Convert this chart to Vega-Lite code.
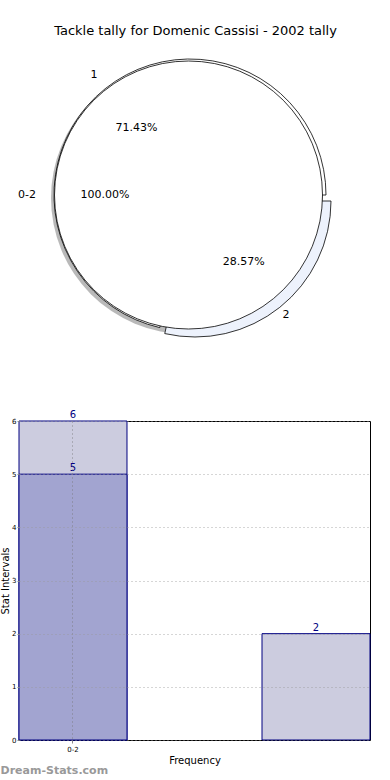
{
  "$schema": "https://vega.github.io/schema/vega-lite/v6.json",
  "padding": {"left": 0, "top": 25, "right": 0, "bottom": 0},
  "background": "white",
  "title": {"text": "Tackle tally for Domenic Cassisi - 2002 tally", "fontSize": 13, "font": "DejaVu Sans", "fontWeight": "normal", "color": "#000000", "anchor": "middle", "offset": 7, "dx": 10},
  "config": {"font": "DejaVu Sans", "view": {"stroke": "#000000", "strokeWidth": 1}},
  "bounds": "flush",
  "spacing": 76,
  "vconcat": [
    {
      "width": 342,
      "height": 300,
      "view": {"stroke": null},
      "layer": [
        {
          "data": {"values": [{"label": "0-2", "value": 7}]},
          "mark": {"type": "arc", "outerRadius": 136, "innerRadius": 0, "fill": "#808080", "opacity": 0.55, "xOffset": -3, "yOffset": 3},
          "encoding": {"theta": {"field": "value", "type": "quantitative", "stack": true, "scale": {"range": [1.5707963267948966, 7.853981633974483]}}}
        },
        {
          "data": {"values": [{"label": "1", "value": 5}]},
          "mark": {"type": "arc", "outerRadius": 136, "innerRadius": 90, "fill": "#ffffff", "stroke": "#000000", "strokeWidth": 0.8},
          "encoding": {
            "theta": {"datum": 7, "type": "quantitative"},
            "theta2": {"datum": 2}
          }
        },
        {
          "data": {"values": [{"label": "2", "value": 2}]},
          "mark": {"type": "arc", "outerRadius": 136, "innerRadius": 90, "fill": "#edf2fc", "stroke": "#000000", "strokeWidth": 0.8, "xOffset": 5, "yOffset": 6},
          "encoding": {
            "theta": {"datum": 0, "type": "quantitative"},
            "theta2": {"datum": 2}
          }
        },
        {
          "data": {"values": [{"label": "0-2", "value": 7}]},
          "mark": {"type": "arc", "outerRadius": 134, "innerRadius": 0, "fill": "#ffffff", "stroke": "#000000", "strokeWidth": 0.8, "xOffset": -1.5},
          "encoding": {"theta": {"field": "value", "type": "quantitative", "stack": true}}
        },
        {
          "data": {"values": [{"label": "2", "value": 2, "pct": "28.57%"}, {"label": "1", "value": 5, "pct": "71.43%"}]},
          "mark": {"type": "text", "radius": 154, "fontSize": 11, "font": "DejaVu Sans", "color": "#000000"},
          "encoding": {
            "theta": {"field": "value", "type": "quantitative", "stack": true},
            "order": {"field": "label", "sort": "descending"},
            "text": {"field": "label"}
          }
        },
        {
          "data": {"values": [{"label": "2", "value": 2, "pct": "28.57%"}, {"label": "1", "value": 5, "pct": "71.43%"}]},
          "mark": {"type": "text", "radius": 86, "fontSize": 11, "font": "DejaVu Sans", "color": "#000000"},
          "encoding": {
            "theta": {"field": "value", "type": "quantitative", "stack": true},
            "order": {"field": "label", "sort": "descending"},
            "text": {"field": "pct"}
          }
        },
        {
          "data": {"values": [{"label": "0-2", "value": 7, "pct": "100.00%"}]},
          "mark": {"type": "text", "radius": 163, "fontSize": 11, "font": "DejaVu Sans", "color": "#000000"},
          "encoding": {"theta": {"field": "value", "type": "quantitative", "stack": true}, "text": {"field": "label"}}
        },
        {
          "data": {"values": [{"label": "0-2", "value": 7, "pct": "100.00%"}]},
          "mark": {"type": "text", "radius": 85, "fontSize": 11, "font": "DejaVu Sans", "color": "#000000"},
          "encoding": {"theta": {"field": "value", "type": "quantitative", "stack": true}, "text": {"field": "pct"}}
        }
      ]
    },
    {
      "width": 351,
      "height": 319,
      "title": {"text": "Dream-Stats.com", "orient": "bottom", "anchor": "start", "frame": "bounds", "fontSize": 11, "fontWeight": "bold", "color": "#999999", "offset": 0},
      "data": {"values": [
        {"bin": "0-2", "count": 6, "series": "all"},
        {"bin": "0-2", "count": 5, "series": "sub"},
        {"bin": "2", "count": 2, "series": "all"}
      ]},
      "encoding": {
        "x": {"field": "bin", "type": "nominal", "sort": ["0-2", "2"],
          "scale": {"paddingInner": 0.5556, "paddingOuter": 0},
          "axis": {"values": ["0-2"], "zindex": 1, "title": "Frequency", "titleFontSize": 10, "titleFontWeight": "normal", "titleColor": "#000000", "titlePadding": 3, "labelFontSize": 7, "labelAngle": 0, "labelColor": "#000000", "labelPadding": 2, "tickSize": 3, "tickColor": "#888888", "domain": false, "grid": true, "gridDash": [1, 3], "gridColor": "#777777", "gridOpacity": 0.8, "bandPosition": 0.5}
        },
        "y": {"field": "count", "type": "quantitative", "stack": null,
          "scale": {"domain": [0, 6], "nice": false},
          "axis": {"values": [0, 1, 2, 3, 4, 5, 6], "zindex": 1, "title": "Stat Intervals", "titleFontSize": 10, "titleFontWeight": "normal", "titleColor": "#000000", "titlePadding": 1, "labelFontSize": 7, "labelColor": "#000000", "labelPadding": 1, "tickSize": 2, "tickColor": "#888888", "domain": false, "grid": true, "gridDash": [1, 3], "gridColor": "#999999", "gridOpacity": 0.8}
        }
      },
      "layer": [
        {
          "mark": {"type": "bar", "stroke": "#000080", "strokeWidth": 1},
          "encoding": {
            "color": {"field": "series", "type": "nominal", "scale": {"domain": ["all", "sub"], "range": ["#ccccdf", "#a2a4d0"]}, "legend": null},
            "order": {"field": "series", "sort": "ascending"}
          }
        },
        {
          "mark": {"type": "text", "dy": -6, "fontSize": 10, "color": "#000080"},
          "encoding": {"text": {"field": "count"}}
        }
      ]
    }
  ]
}
